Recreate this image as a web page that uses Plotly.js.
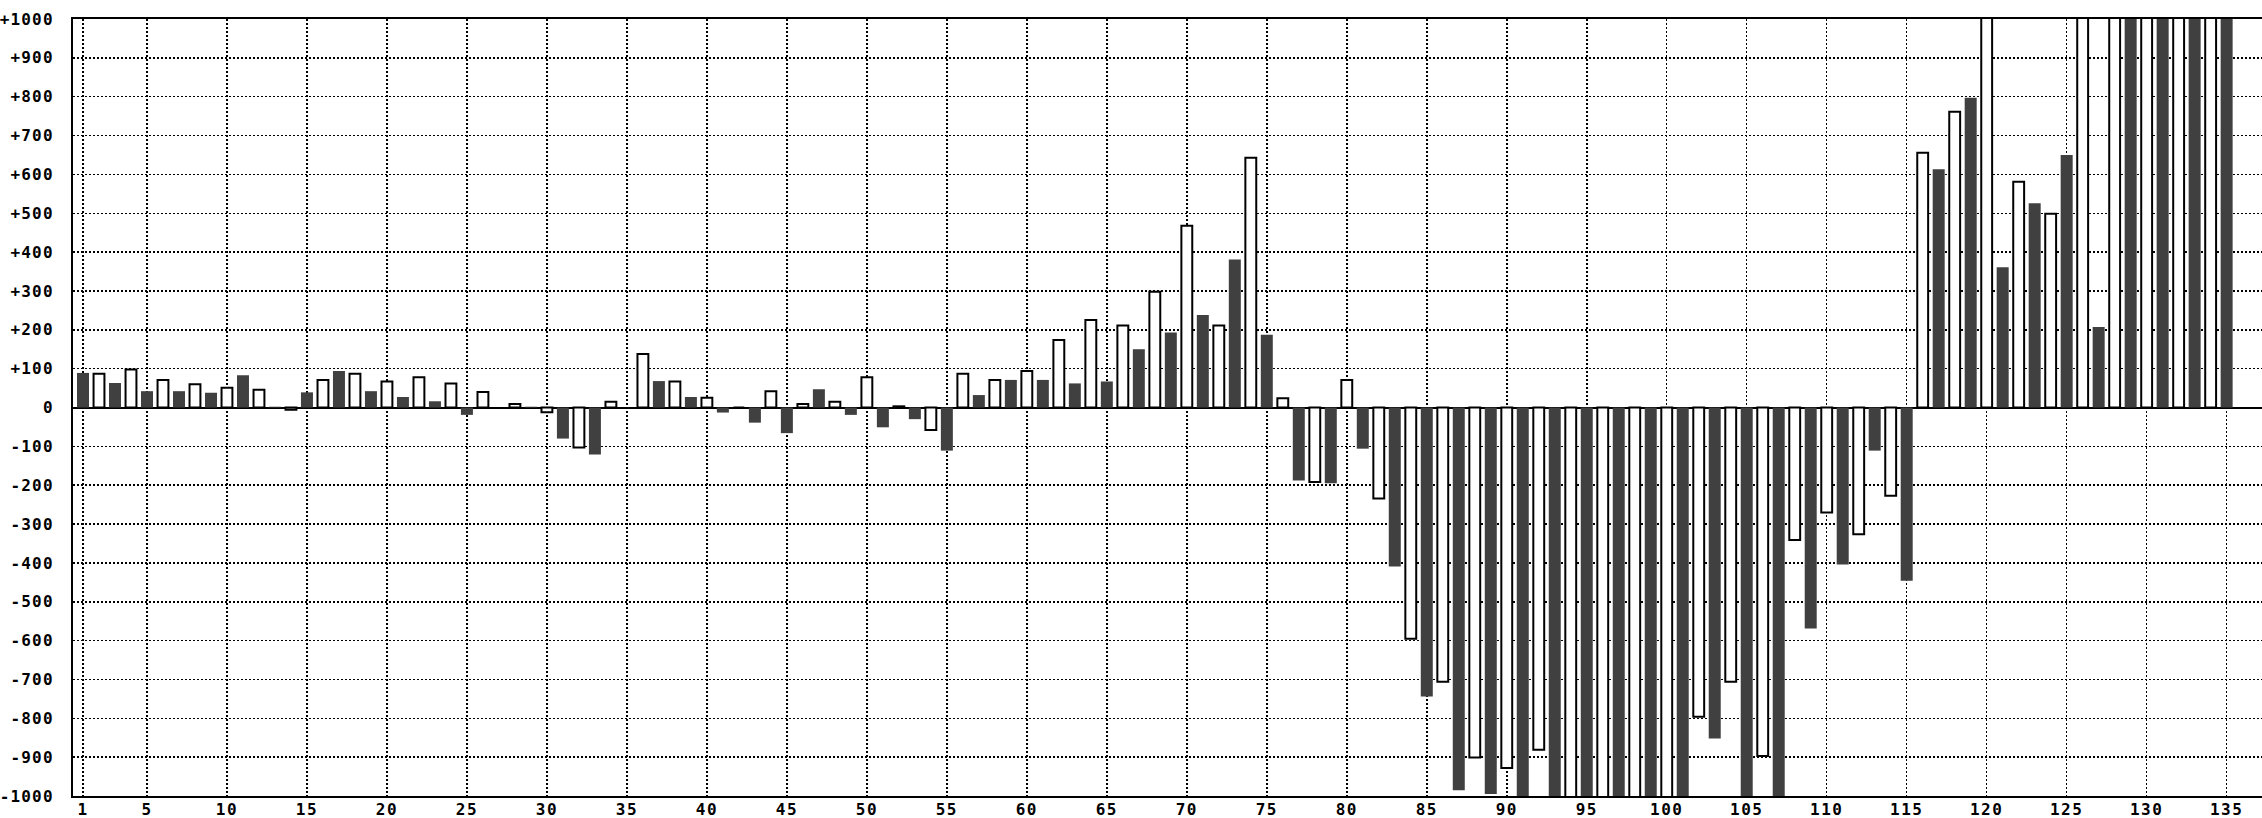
<!DOCTYPE html>
<html>
<head>
<meta charset="utf-8">
<script src="https://cdn.plot.ly/plotly-3.0.1.min.js"></script>
<style>
  html, body { margin: 0; padding: 0; background: #fff; overflow: hidden; }
  #chart { width: 2262px; height: 818px; }
  .xtick text { letter-spacing: 1.5px; }
  .ytick text { letter-spacing: 1.2px; }
</style>
</head>
<body>
<div id="chart"></div>
<script>
// Dark (filled) series: odd positions 1,3,5,...,135
const darkValues = [
  89, 63, 42, 42, 38, 83, 2, 39, 94, 42,
  27, 16, -19, 0, 2, -80, -121, 0, 68, 27,
  -13, -39, -66, 47, -19, -51, -30, -111, 32, 71,
  71, 62, 67, 150, 193, 238, 381, 187, -188, -195,
  -106, -409, -744, -985, -995, -1100, -1100, -1100, -1100, -1100,
  -1100, -852, -1100, -1100, -569, -404, -111, -446, 613, 797,
  361, 526, 650, 207, 1100, 1100, 1100, 1100
];
// White (outlined) series: even positions 2,4,6,...,134
const whiteValues = [
  87, 98, 71, 60, 51, 46, -6, 71, 87, 67,
  78, 62, 40, 9, -12, -103, 15, 138, 67, 25,
  0, 42, 9, 15, 78, 3, -58, 87, 71, 94,
  174, 225, 211, 298, 468, 211, 643, 24, -192, 71,
  -234, -595, -706, -901, -928, -881, -1100, -1100, -1100, -1100,
  -796, -706, -897, -341, -270, -326, -227, 656, 761, 1100,
  581, 499, 1100, 1100, 1100, 1100, 1100
];
const darkX = darkValues.map((v, i) => 2 * i + 1);
const whiteX = whiteValues.map((v, i) => 2 * i + 2);

const xTickVals = [1, 5, 10, 15, 20, 25, 30, 35, 40, 45, 50, 55, 60, 65, 70, 75, 80, 85, 90, 95, 100, 105, 110, 115, 120, 125, 130, 135];
const xTickText = xTickVals.map(String);
const yTickVals = [1000, 900, 800, 700, 600, 500, 400, 300, 200, 100, 0, -100, -200, -300, -400, -500, -600, -700, -800, -900, -1000];
const yTickText = ["+1000", "+900", "+800", "+700", "+600", "+500", "+400", "+300", "+200", "+100", "0", "-100", "-200", "-300", "-400", "-500", "-600", "-700", "-800", "-900", "-1000"];

const traces = [
  {
    type: 'bar', x: whiteX, y: whiteValues, width: 0.68,
    marker: { color: '#ffffff', line: { color: '#000000', width: 2 } },
    hoverinfo: 'x+y'
  },
  {
    type: 'bar', x: darkX, y: darkValues, width: 0.75,
    marker: { color: '#404040', line: { width: 0 } },
    hoverinfo: 'x+y'
  }
];

const tickFont = { family: 'DejaVu Sans Mono, monospace', size: 16, color: '#000000', weight: 'bold' };

const layout = {
  width: 2262, height: 818,
  margin: { l: 73, r: 0, t: 19, b: 22, pad: 0 },
  paper_bgcolor: '#ffffff', plot_bgcolor: '#ffffff',
  showlegend: false,
  barmode: 'overlay',
  xaxis: {
    range: [0.375, 137.21],
    tickmode: 'array', tickvals: xTickVals, ticktext: xTickText,
    ticks: '', tickfont: tickFont, ticklabelstandoff: -2,
    showgrid: true, gridcolor: '#000000', gridwidth: 1.5, griddash: '2px,2px',
    showline: true, linecolor: '#000000', linewidth: 2, mirror: true,
    zeroline: false, fixedrange: true
  },
  yaxis: {
    range: [-1000, 1000],
    tickmode: 'array', tickvals: yTickVals, ticktext: yTickText,
    ticks: '', tickfont: tickFont, ticklabelstandoff: 14,
    showgrid: true, gridcolor: '#000000', gridwidth: 1.5, griddash: '2px,2px',
    showline: true, linecolor: '#000000', linewidth: 2, mirror: false,
    zeroline: true, zerolinecolor: '#000000', zerolinewidth: 2, fixedrange: true
  }
};

Plotly.newPlot('chart', traces, layout, { displayModeBar: false, staticPlot: true });
</script>
</body>
</html>
